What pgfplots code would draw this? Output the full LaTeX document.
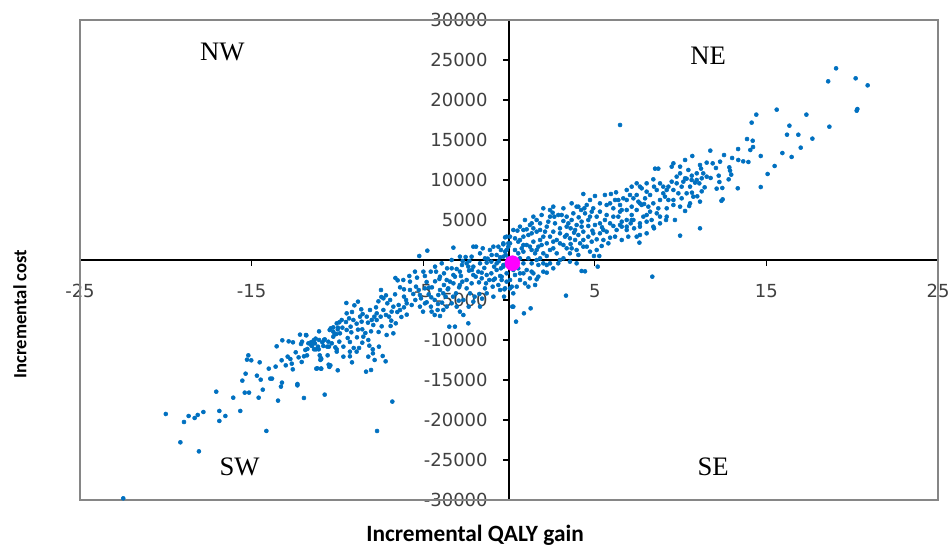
\documentclass[border=0pt]{standalone}
\usepackage{fontspec}
\usepackage{pgfplots}
\usepackage{pgfplotstable}
\pgfplotsset{compat=1.18}
\setmainfont{DejaVu Sans}
\newfontfamily\labelfont{Carlito}
\newfontfamily\quadfont{Liberation Serif}
\definecolor{dotblue}{HTML}{0070C0}
\definecolor{tickgray}{HTML}{404040}
\definecolor{framegray}{HTML}{868686}
\definecolor{meanpink}{HTML}{FF00FF}

% Bootstrapped incremental QALY gain (x) and incremental cost (y)
\pgfplotstableread{
x y
-22.48 -29790
-20.0 -19250
-18.94 -20250
-18.67 -19500
-18.32 -19750
-18.14 -19370
-17.81 -19000
-19.15 -22790
-18.07 -23920
-16.88 -18870
-16.53 -19500
-16.88 -20120
-17.06 -16460
-16.07 -17210
-15.66 -18870
-14.14 -21370
-15.4 -16580
-15.15 -16580
-14.59 -17210
-14.35 -16210
-15.54 -15080
-15.35 -14210
-14.69 -14460
-14.47 -14960
-15.19 -11920
-15.27 -12460
-15.02 -12540
-14.53 -12790
-14.0 -13580
-13.91 -14830
-13.81 -14830
-13.46 -17580
-13.23 -15330
-13.29 -15830
-13.6 -13330
-13.54 -10790
-13.21 -10040
-12.84 -10170
-12.59 -10290
-13.25 -12540
-13.01 -13170
-12.9 -12080
-12.74 -12380
-12.66 -12960
-12.6 -13670
-12.43 -11540
-12.33 -15500
-12.33 -15670
-12.26 -12170
-12.08 -12750
-12.12 -10500
-12.06 -10210
-11.95 -17250
-11.95 -12040
-11.77 -11920
-11.81 -9420
-11.75 -11120
-11.87 -11250
-11.54 -10290
-11.48 -10750
-11.36 -10000
-11.31 -10420
-11.27 -9830
-11.07 -8920
-11.25 -11170
-11.09 -11170
-10.97 -12250
-10.99 -12500
-11.23 -13580
-10.96 -13580
-10.74 -16830
-10.78 -10000
-10.53 -10210
-10.49 -10830
-10.45 -8750
-10.24 -8420
-10.41 -13170
-10.47 -13370
-10.12 -10920
-10.04 -11170
-10.06 -9250
-9.98 -8670
-9.98 -13790
-9.89 -7790
-7.69 -21375
-6.80 -17700
-12.18 -9333
-11.83 -9375
-11.69 -10417
-11.40 -10125
-11.52 -10667
-11.36 -11167
-11.07 -10000
-11.13 -10833
-10.88 -10292
-10.74 -9917
-10.82 -10750
-10.59 -10833
-11.03 -11917
-10.94 -12375
-10.57 -11917
-11.17 -13542
-10.94 -13583
-10.51 -13083
-10.24 -9583
-10.39 -8542
-9.97 -8458
-10.16 -9292
-9.71 -8458
-9.50 -7750
-9.32 -7292
-9.48 -5375
-9.01 -5667
-8.80 -5208
-8.61 -6167
-9.15 -6500
-8.53 -6750
-9.07 -7500
-8.88 -7958
-9.23 -8333
-9.19 -9042
-8.80 -8708
-8.55 -8667
-9.89 -10208
-9.65 -10833
-9.40 -9750
-9.27 -10250
-8.86 -9667
-9.05 -11000
-8.74 -11000
-9.27 -12042
-9.15 -12792
-8.88 -11458
-8.55 -10333
-8.37 -9125
-8.22 -7833
-8.04 -8917
-8.00 -7500
-7.85 -7083
-7.75 -5917
-7.61 -5167
-7.46 -3750
-7.44 -4625
-7.17 -4417
-7.09 -5417
-7.32 -6250
-7.48 -7083
-6.99 -7083
-6.86 -7583
-7.42 -8292
-7.60 -9000
-8.14 -10708
-7.94 -11167
-7.93 -11667
-7.83 -12500
-8.20 -12083
-8.33 -13958
-8.04 -13750
-7.36 -12000
-7.19 -12667
-7.58 -10833
-7.13 -9375
-6.74 -9167
-6.90 -8250
-6.60 -7917
-6.51 -6500
-6.43 -5625
-6.64 -4292
-6.49 -2542
-6.62 -2250
-6.35 -3417
-6.12 -3667
-6.00 -5000
-6.12 -5917
-5.96 -6833
-6.27 -7125
-5.67 -5625
-5.46 -5000
-5.58 -4250
-5.77 -3750
-6.16 -2500
-5.81 -2000
-5.36 -2208
-5.42 -3333
-5.26 -3750
-5.13 -4792
-5.19 -5833
-5.01 -6458
-4.80 -5292
-4.68 -4292
-4.66 -3458
-4.80 -2750
-4.90 -2000
-4.56 -1458
-4.25 -1458
-4.31 -2667
-4.49 -3417
-4.53 -4667
-4.33 -5000
-4.14 -5500
-4.02 -3750
-3.79 -3125
-4.06 -2375
-3.79 -1667
-3.61 -1042
-3.34 -1042
-3.24 -1875
-3.44 -2708
-3.57 -3667
-3.69 -4583
-3.90 -5333
-4.16 -6250
-4.55 -5833
-4.33 -6875
-4.02 -7000
-3.83 -6250
-3.26 -4583
-3.34 -5417
-3.48 -8333
-3.15 -8333
-2.86 -6458
-2.66 -6875
-2.37 -7917
-2.35 -5833
-2.08 -5208
-2.00 -4583
-1.73 -4250
-1.57 -4833
-1.69 -5833
-2.93 -5083
-3.09 -4167
-2.91 -3417
-2.72 -2708
-2.80 -2000
-3.05 -1125
-2.74 -625
-2.47 -417
-2.31 -125
-2.16 -1250
-1.94 -2083
-1.75 -2792
-1.59 -1583
-1.44 -1000
-1.30 -333
-1.24 167
-1.03 -208
-0.87 -833
-1.03 -1667
-1.15 -2500
-1.34 -2917
-0.95 -3333
-0.82 -2333
-0.52 -2000
-0.47 -1042
-0.60 -167
-0.72 625
-0.47 1250
-0.33 1958
-0.23 2833
-0.04 2083
-0.19 625
-0.14 -417
-0.14 -2708
-0.27 -3667
-0.29 -4583
0.06 -3542
0.25 -5833
0.41 -7708
-5.23 500
-4.76 1167
-3.24 1542
-2.08 1667
-1.92 1667
-2.53 375
-2.70 -125
-2.33 -1333
-1.53 1458
-0.91 1667
-0.52 333
-7.32 -4792
-6.93 -5000
-6.74 -5833
-6.35 -6250
-5.96 -5417
-6.84 -6458
-7.17 -6875
-7.71 -6667
-8.10 -6250
-8.29 -7083
-8.59 -7708
-8.68 -7083
-9.46 -6667
-9.75 -7500
-10.04 -7917
-10.24 -8958
-9.85 -9167
-9.46 -8750
-7.91 -8125
-7.71 -7500
-8.49 -9583
-8.20 -10000
-9.27 -11458
-9.65 -12083
-10.04 -11458
-10.33 -10417
-4.02 -2083
-3.63 -2500
-3.24 -2917
-2.86 -3125
-2.47 -3542
-2.18 -2917
-2.47 -2500
-2.08 -1875
-1.79 -1458
-1.59 -2292
-1.30 -1875
-1.40 -3542
-0.91 -2500
-0.72 -1250
-0.62 -3125
-0.43 -2083
-0.33 -625
-0.72 -417
-1.01 625
-1.40 208
-1.69 -417
-2.08 -833
-2.37 -833
-2.86 -1458
-3.15 -2083
-3.54 -3542
-3.83 -4167
-4.12 -4375
-4.90 -3542
-5.19 -4375
-4.90 -5417
-4.51 -6458
-3.63 -5833
-3.05 -5833
-2.66 -5000
-2.27 -4167
-1.30 -4167
-0.91 -4583
-0.52 -3750
-0.14 1250
-0.33 417
-0.62 1667
-1.11 1250
-1.69 833
-2.18 417
-2.86 417
-3.34 0
-3.92 -417
-4.31 -833
-4.99 -1458
-5.48 -1458
-5.77 -2708
-6.12 -4583
0.19 -5833
0.87 -6667
1.26 -6042
3.32 -4458
8.35 -2083
9.97 3042
4.23 -1375
4.43 -1417
5.17 -833
2.0 6458
2.54 5917
2.64 5417
3.17 4875
4.33 8250
5.01 8000
5.59 8125
5.94 8250
6.24 8458
6.37 7500
5.30 6042
4.20 6250
4.39 6458
4.06 5333
4.23 4792
3.59 3958
3.79 3417
4.62 4250
4.86 3667
5.30 4583
5.42 4083
5.69 3542
5.89 2792
5.11 2583
5.40 1750
4.95 500
5.26 500
4.33 1667
3.85 2500
3.59 2000
3.26 2917
2.97 2083
2.58 1458
2.78 833
3.17 208
2.20 500
2.39 1250
1.81 2500
2.0 2917
1.42 3958
1.61 3542
1.03 3833
1.13 3125
0.49 3667
0.64 2500
0.84 1875
0.35 1250
0.54 833
1.32 1250
1.52 833
1.81 208
1.71 -625
1.03 -1250
1.42 -1667
0.64 -2500
0.93 -2917
1.52 -3125
1.61 -2417
2.20 -1583
0.16 -3333
0.25 -4167
7.44 9583
7.63 9167
8.02 8542
8.22 8125
7.54 7292
7.87 7000
8.51 11417
8.70 11417
8.41 10083
8.45 9167
9.09 7917
9.29 7500
9.58 12083
9.48 11667
9.97 10833
10.16 9792
10.45 11250
10.35 10167
10.26 6125
9.67 5000
9.15 5000
8.45 3958
7.44 2917
7.60 2167
6.95 2917
6.57 2500
7.09 4583
7.29 3958
7.63 4167
8.02 4792
8.61 5833
8.80 5417
9.19 6458
9.58 6875
6.86 6250
7.15 5625
6.37 5417
6.57 4792
6.57 4167
6.08 4250
11.13 7292
9.87 8333
10.06 7708
8.80 9583
8.99 9167
-0.14 2917
-0.33 2083
-0.23 1042
0.06 2083
0.35 2708
-0.04 208
-0.33 -833
-0.14 -1667
-0.43 -2500
-0.23 -3542
0.45 -625
0.84 -417
0.64 208
1.13 208
1.32 -417
1.61 0
2.0 -417
2.39 -417
2.87 -417
0.74 1458
1.03 1875
1.42 2292
1.71 1667
2.20 2083
2.39 2917
2.78 2500
2.10 3542
2.58 3542
2.97 3958
3.36 4167
1.81 4583
2.29 4792
2.68 4583
1.32 4583
0.64 4167
0.93 5000
1.42 5417
1.90 5625
2.39 5417
2.87 5625
3.36 5417
3.46 4583
3.65 5000
3.94 4375
4.33 3542
4.04 3125
4.33 2500
4.62 2917
4.82 2292
4.53 1667
3.94 1250
3.55 833
3.36 1458
4.72 1042
5.11 1250
5.50 2500
5.79 2083
6.18 2917
6.27 3750
6.47 4375
6.86 5000
5.89 4583
5.59 5000
5.11 5417
4.72 5417
4.43 5833
4.91 6458
5.30 7083
5.69 6875
6.08 6458
6.47 6042
6.47 6875
6.86 7500
7.25 7708
7.15 6667
7.44 6250
7.73 6875
7.93 7708
8.12 6667
8.41 7083
8.22 6042
8.61 8750
8.99 8333
9.29 9167
9.58 8750
9.77 9583
10.06 9167
10.26 10208
10.64 10000
10.94 10833
11.13 11875
10.74 7917
9.58 7500
9.97 6667
10.55 7083
9.19 5417
8.80 4583
7.83 5417
7.25 5000
7.63 3125
8.02 3333
8.41 4167
6.86 4167
5.30 3333
3.94 6667
4.72 7500
3.65 7083
3.17 6458
3.07 5625
2.58 6667
1.32 3333
0.84 2917
1.71 -2083
1.22 -2292
0.64 -1667
0.35 -1875
2.0 -1458
2.58 -1042
3.55 -208
0.06 2917
0.25 3750
-0.04 1667
0.84 1042
1.22 1667
1.61 1250
2.0 833
1.90 1875
2.58 2292
3.17 1875
3.65 1458
4.14 2083
4.04 625
3.55 2708
2.97 3333
3.36 3125
3.85 3750
4.23 4167
4.91 3333
5.01 4375
5.50 3750
4.62 5000
3.75 5833
4.04 6667
4.53 6875
4.82 6042
5.69 5625
6.08 5417
5.89 7083
6.18 7500
6.66 7708
7.05 8125
7.44 8125
7.63 7083
8.02 5625
8.31 5000
8.70 6458
8.80 7500
9.19 8750
9.48 9792
9.77 10417
9.97 11667
10.26 12500
10.94 10000
10.55 9167
10.35 8333
11.52 10417
8.02 9583
7.73 8958
7.15 9167
6.86 8750
6.57 6250
7.15 5000
7.63 4583
6.86 3750
2.39 6250
1.61 5000
1.22 4375
0.84 3750
2.20 4167
1.81 3750
0.54 2292
1.32 -1458
0.84 -1667
0.54 -1042
0.25 -1250
0.06 -2500
0.45 -3333
1.13 -3333
2.20 -625
2.97 0
3.94 -417
6.47 16875
19.06 23960
18.6 22330
20.2 22710
20.9 21830
20.26 18660
20.3 18870
18.67 16660
15.6 18790
17.33 18170
14.41 18170
14.14 17170
16.34 16790
16.2 15660
16.86 15660
17.68 15170
17.0 14040
16.47 12880
15.93 13370
15.48 11750
15.07 10750
14.67 9120
14.67 13000
13.87 15120
14.2 14910
14.22 14120
14.06 13750
13.35 13870
13.33 8960
11.13 3960
10.68 13000
11.73 13670
12.53 13120
13.0 12750
13.65 12330
13.95 12250
13.36 12500
12.3 12290
11.87 12080
11.52 12170
12.06 11500
12.84 11580
12.88 11170
12.95 10670
12.8 10080
12.22 10540
11.75 10250
11.32 10830
11.19 11420
10.65 10540
10.84 9670
11.23 10210
11.09 9580
11.4 9080
11.23 8580
10.97 7960
10.66 8420
12.26 9750
12.1 8920
12.43 9000
12.45 7580
12.38 7400
10.5 6750
}\icerdata

\begin{document}
\begin{tikzpicture}
\begin{axis}[
  name=ax,
  scale only axis,
  width=643.5pt, height=360pt,
  xmin=-25, xmax=25, ymin=-30000, ymax=30000,
  axis lines=middle,
  axis line style={black, line width=0.8pt, -},
  xtick={-25,-15,-5,5,15,25},
  ytick={-30000,-25000,...,30000},
  tick align=outside,
  major tick length=4.5pt,
  tick style={black, line width=0.8pt},
  scaled y ticks=false,
  /pgf/number format/1000 sep={},
  /pgf/number format/assume math mode=true,
  ticklabel style={font=\fontsize{13.5}{15}\selectfont, text=tickgray},
  xticklabel style={yshift=-10pt},
  yticklabel style={xshift=-8pt},
  clip=false,
]
  % plot-area frame
  \draw[framegray, line width=1.2pt] (rel axis cs:0,0) rectangle (rel axis cs:1,1);

  \addplot[only marks, mark=*, mark size=1.5pt,
           mark options={draw=dotblue, fill=dotblue}]
    table[x=x, y=y] {\icerdata};

  % mean of the simulations
  \addplot[only marks, mark=*, mark size=5.6pt,
           mark options={draw=meanpink, fill=meanpink}]
    coordinates {(0.2,-400)};

  % quadrant names
  \node[font=\quadfont\fontsize{20}{24}\selectfont] at (axis cs:-16.7,26000) {NW};
  \node[font=\quadfont\fontsize{20}{24}\selectfont] at (axis cs:11.6,25500) {NE};
  \node[font=\quadfont\fontsize{20}{24}\selectfont] at (axis cs:-15.7,-25900) {SW};
  \node[font=\quadfont\fontsize{20}{24}\selectfont] at (axis cs:11.9,-25900) {SE};

  % axis titles
  \node[font=\labelfont\bfseries\fontsize{14}{16}\selectfont, rotate=90, yshift=45pt]
    at (rel axis cs:0,0.3875) {Incremental cost};
  \node[font=\labelfont\bfseries\fontsize{17.5}{20}\selectfont, yshift=-26.25pt]
    at (rel axis cs:0.4604,0) {Incremental QALY gain};
\end{axis}
\pgfresetboundingbox
\path[use as bounding box]
  ([shift={(-60pt,-34.5pt)}]ax.south west) rectangle ([shift={(8.25pt,15pt)}]ax.north east);
\end{tikzpicture}
\end{document}
